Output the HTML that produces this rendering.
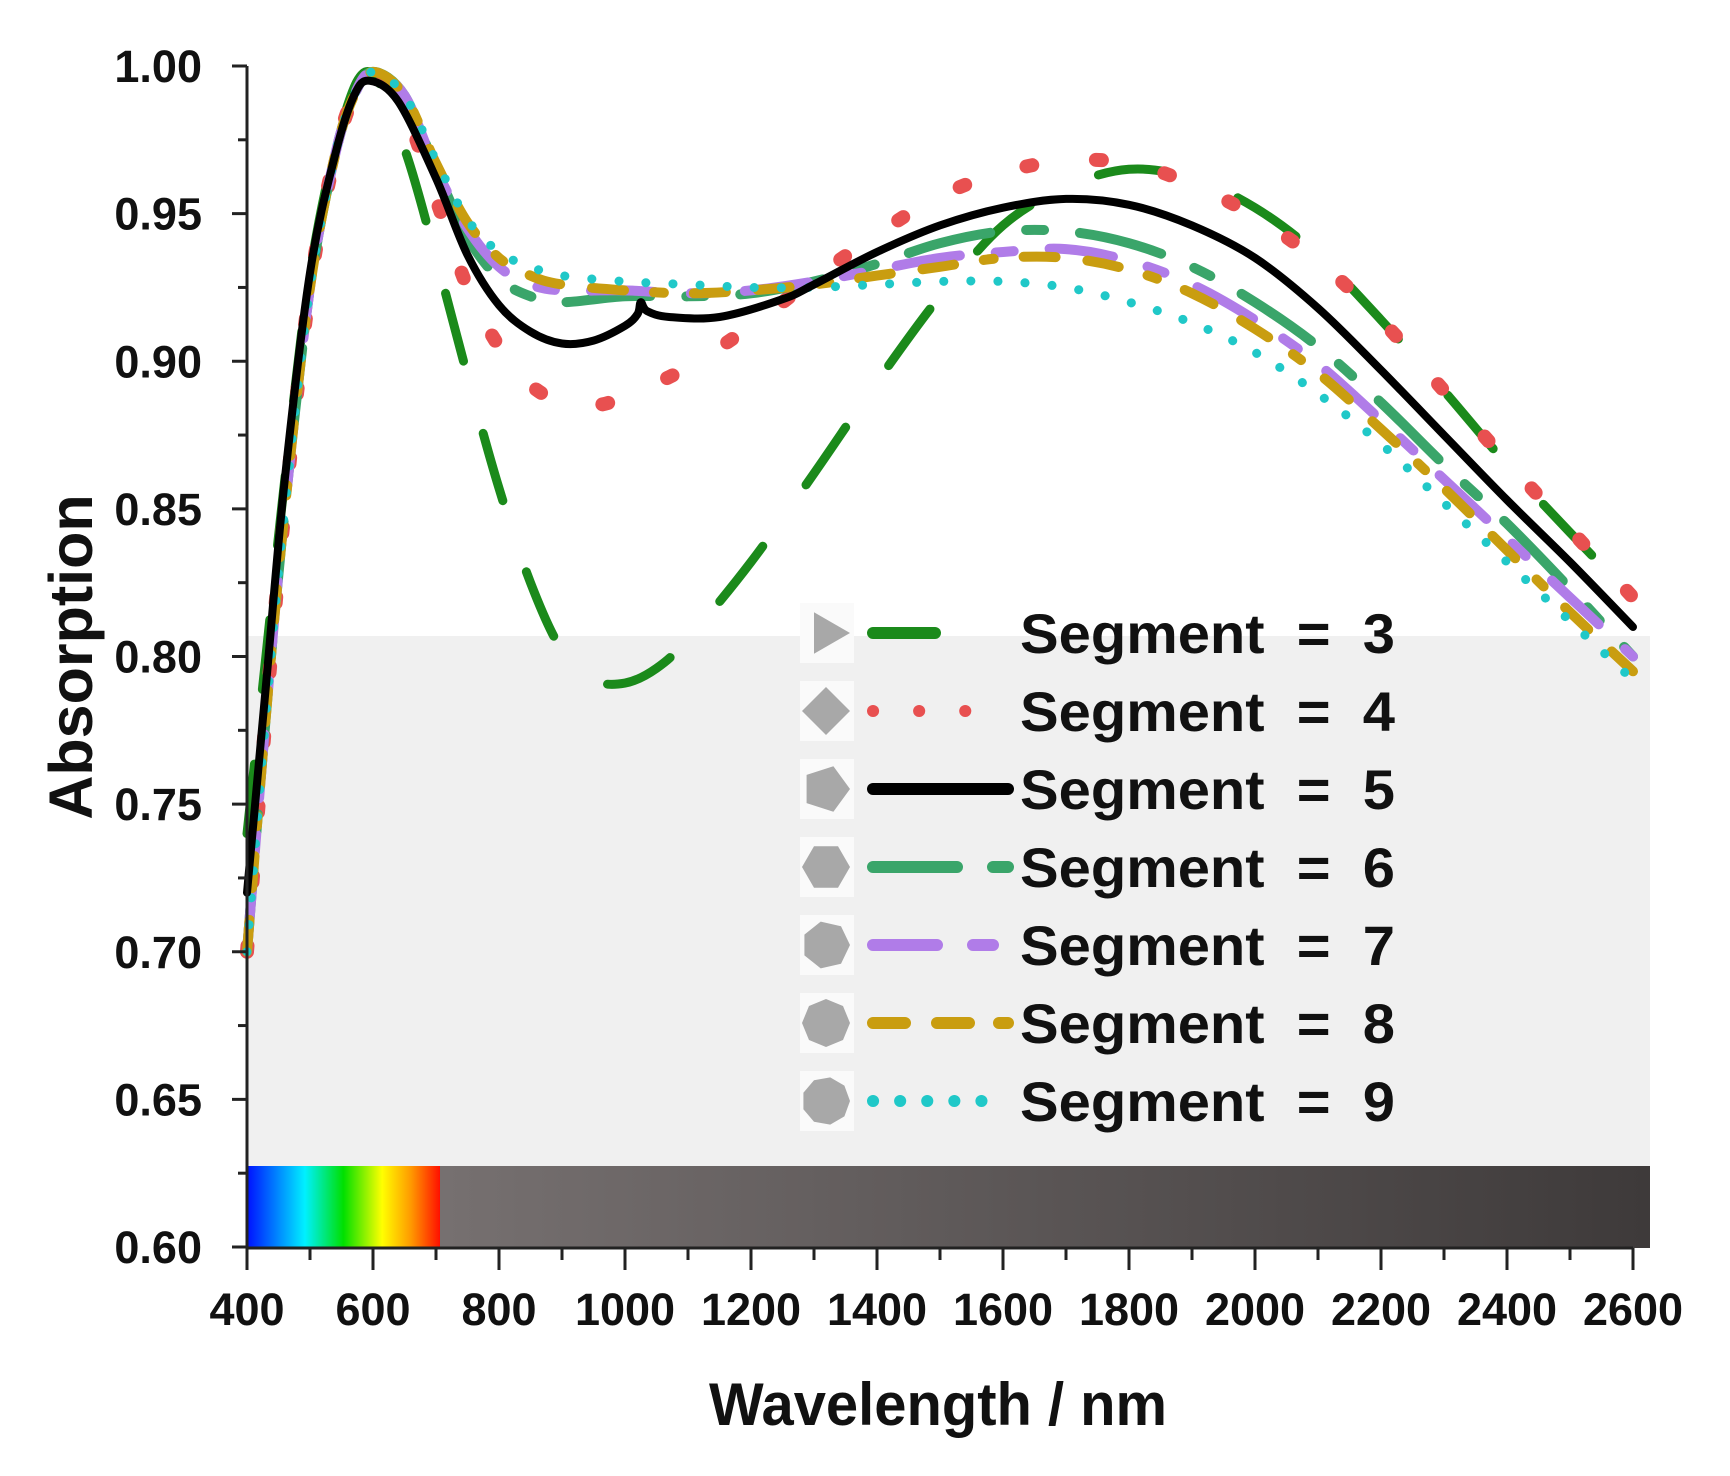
<!DOCTYPE html>
<html><head><meta charset="utf-8">
<style>html,body{margin:0;padding:0;background:#fff;}svg{display:block;}</style>
</head><body>
<svg id="s" width="1730" height="1476" viewBox="0 0 1730 1476" xmlns="http://www.w3.org/2000/svg" font-family="'Liberation Sans', sans-serif" font-weight="bold">
<defs>
<linearGradient id="spec" x1="0" x2="1" y1="0" y2="0">
<stop offset="0" stop-color="#0010ff"/>
<stop offset="0.3" stop-color="#00f0ff"/>
<stop offset="0.5" stop-color="#00e000"/>
<stop offset="0.7" stop-color="#ffff00"/>
<stop offset="0.85" stop-color="#ff9900"/>
<stop offset="1" stop-color="#ff1000"/>
</linearGradient>
<linearGradient id="dark" x1="0" x2="1" y1="0" y2="0">
<stop offset="0" stop-color="#767070"/>
<stop offset="1" stop-color="#3e3a3a"/>
</linearGradient>
</defs>
<rect x="247" y="636" width="1403" height="530" fill="#f0f0f0"/>
<rect x="247" y="1166" width="193" height="82" fill="url(#spec)"/>
<rect x="440" y="1166" width="1210" height="82" fill="url(#dark)"/>
<g id="curves" fill="none"></g>
<g id="axes" stroke="#222" stroke-width="3" fill="none"></g>
<g id="labels" font-size="45" fill="#111"></g>
<text x="938" y="1425" font-size="60" text-anchor="middle" textLength="458" lengthAdjust="spacingAndGlyphs" fill="#111">Wavelength / nm</text>
<text transform="translate(92,657) rotate(-90)" font-size="61" text-anchor="middle" fill="#111">Absorption</text>
<g id="legend"></g>
</svg>
<script>
const NS="http://www.w3.org/2000/svg";
const X=w=>247+(w-400)*0.63, Y=a=>66+(1-a)*2952.5;
function el(p,t,a,txt){const e=document.createElementNS(NS,t);for(const k in a)e.setAttribute(k,a[k]);if(txt!==undefined)e.textContent=txt;p.appendChild(e);return e;}
const ax=document.getElementById('axes'),lb=document.getElementById('labels');
el(ax,'path',{d:`M247,66 V1248 H1633`});
for(let i=0;i<=16;i++){const a=0.6+i*0.025,y=Y(a),maj=i%2==0;el(ax,'line',{x1:247,x2:maj?232:238,y1:y,y2:y});
 if(maj)el(lb,'text',{x:202,y:y+16,'text-anchor':'end'},a.toFixed(2));}
for(let w=400;w<=2600;w+=100){const x=X(w),maj=w%200==0;el(ax,'line',{x1:x,x2:x,y1:1248,y2:maj?1270:1260});
 if(maj)el(lb,'text',{x:x,y:1325,'text-anchor':'middle'},w);}
const rise=[[400,0.70],[430,0.78],[460,0.85],[500,0.925],[540,0.97],[570,0.99],[600,0.998]];
const S={
3:[[400,0.74],[430,0.80],[460,0.86],[500,0.93],[550,0.98],[595,0.998],[650,0.972],[700,0.935],[750,0.895],[800,0.857],[850,0.825],[900,0.802],[950,0.792],[1000,0.791],[1050,0.796],[1100,0.806],[1200,0.832],[1300,0.862],[1400,0.893],[1500,0.922],[1600,0.946],[1700,0.959],[1800,0.965],[1900,0.962],[2000,0.952],[2100,0.936],[2200,0.914],[2300,0.89],[2400,0.865],[2500,0.842],[2600,0.82]],
4:[...rise.slice(0,6),[600,0.998],[650,0.985],[700,0.955],[750,0.925],[800,0.905],[850,0.892],[900,0.886],[950,0.885],[1000,0.888],[1100,0.898],[1200,0.912],[1300,0.928],[1400,0.943],[1500,0.956],[1600,0.964],[1700,0.968],[1800,0.967],[1900,0.96],[2000,0.949],[2100,0.934],[2200,0.914],[2300,0.89],[2400,0.866],[2500,0.843],[2600,0.82]],
5:[[400,0.72],[430,0.79],[460,0.86],[500,0.93],[540,0.97],[570,0.99],[595,0.995],[640,0.988],[700,0.962],[750,0.936],[800,0.919],[850,0.910],[900,0.906],[950,0.907],[1000,0.912],[1020,0.916],[1025,0.92],[1035,0.917],[1070,0.915],[1150,0.915],[1250,0.921],[1300,0.926],[1400,0.937],[1500,0.946],[1600,0.952],[1700,0.955],[1800,0.953],[1900,0.946],[2000,0.935],[2100,0.918],[2200,0.897],[2300,0.875],[2400,0.853],[2500,0.832],[2600,0.81]],
6:[...rise,[650,0.99],[700,0.965],[750,0.942],[800,0.928],[850,0.922],[900,0.92],[1000,0.922],[1100,0.922],[1200,0.923],[1300,0.927],[1400,0.933],[1500,0.94],[1600,0.944],[1700,0.944],[1800,0.94],[1900,0.932],[2000,0.92],[2100,0.905],[2200,0.886],[2300,0.865],[2400,0.845],[2500,0.823],[2600,0.80]],
7:[...rise,[650,0.99],[700,0.965],[750,0.945],[800,0.932],[850,0.926],[900,0.924],[1000,0.924],[1100,0.923],[1200,0.924],[1300,0.927],[1400,0.931],[1500,0.935],[1600,0.937],[1700,0.938],[1800,0.934],[1900,0.926],[2000,0.914],[2100,0.899],[2200,0.88],[2300,0.86],[2400,0.84],[2500,0.82],[2600,0.80]],
8:[...rise,[650,0.99],[700,0.967],[750,0.947],[800,0.935],[850,0.929],[900,0.926],[1000,0.924],[1100,0.923],[1200,0.924],[1300,0.926],[1400,0.929],[1500,0.932],[1600,0.935],[1700,0.935],[1800,0.931],[1900,0.923],[2000,0.911],[2100,0.896],[2200,0.877],[2300,0.857],[2400,0.836],[2500,0.815],[2600,0.795]],
9:[...rise,[650,0.99],[700,0.968],[750,0.948],[800,0.937],[850,0.932],[900,0.929],[1000,0.927],[1100,0.926],[1200,0.925],[1300,0.925],[1400,0.926],[1500,0.927],[1600,0.927],[1700,0.925],[1800,0.92],[1900,0.913],[2000,0.903],[2100,0.889],[2200,0.872],[2300,0.852],[2400,0.832],[2500,0.812],[2600,0.792]]};
const ST={
3:{c:'#1b8a1b',w:9,d:'70 75',cap:'round'},
4:{c:'#e85050',w:14,d:'6 64',cap:'round'},
5:{c:'#000',w:8,d:'',cap:'round'},
6:{c:'#3aa56a',w:10,d:'84 36 18 36',cap:'round'},
7:{c:'#b07ce8',w:10,d:'64 36 18 36',cap:'round'},
8:{c:'#c99d10',w:10,d:'32 32 32 30 10 30',cap:'round'},
9:{c:'#20c8c8',w:9,d:'0.1 27',cap:'round'}};
function path(pts){const P=pts.map(p=>[X(p[0]),Y(p[1])]);let d=`M${P[0][0]},${P[0][1]}`;
 for(let i=0;i<P.length-1;i++){const p0=P[i-1]||P[i],p1=P[i],p2=P[i+1],p3=P[i+2]||p2;
  const c1=[p1[0]+(p2[0]-p0[0])/6,p1[1]+(p2[1]-p0[1])/6],c2=[p2[0]-(p3[0]-p1[0])/6,p2[1]-(p3[1]-p1[1])/6];
  d+=`C${c1[0].toFixed(1)},${c1[1].toFixed(1)} ${c2[0].toFixed(1)},${c2[1].toFixed(1)} ${p2[0].toFixed(1)},${p2[1].toFixed(1)}`;}
 return d;}
const cg=document.getElementById('curves');
for(const k of [3,4,6,7,8,9,5]){const s=ST[k];el(cg,'path',{d:path(S[k]),stroke:s.c,'stroke-width':s.w,'stroke-dasharray':s.d||'none','stroke-linecap':s.cap,'stroke-linejoin':'round'});}
const lg=document.getElementById('legend');
const LD={3:'70 75',4:'0.1 46',5:'',6:'84 36 20 30',7:'64 36 20 30',8:'32 32 32 30 10 30',9:'0.1 27'};
[3,4,5,6,7,8,9].forEach((k,i)=>{const y=633+78*i;
 el(lg,'rect',{x:800,y:y-30,width:54,height:60,fill:'#fafafa'});
 const n=k,r=24,pts=[];for(let j=0;j<n;j++){const a=j*2*Math.PI/n;pts.push((826+r*Math.cos(a)).toFixed(1)+','+(y+r*Math.sin(a)).toFixed(1));}
 el(lg,'polygon',{points:pts.join(' '),fill:'#a8a8a8'});
 const s=ST[k];el(lg,'line',{x1:873,x2:k==3?935:1008,y1:y,y2:y,stroke:s.c,'stroke-width':12,'stroke-linecap':'round','stroke-dasharray':LD[k]||'none'});
 el(lg,'text',{x:1020,y:y+20,'font-size':56,textLength:375,lengthAdjust:'spacingAndGlyphs',fill:'#111'},'Segment\u00a0\u00a0=\u00a0\u00a0'+k);
});
</script>
</body></html>
